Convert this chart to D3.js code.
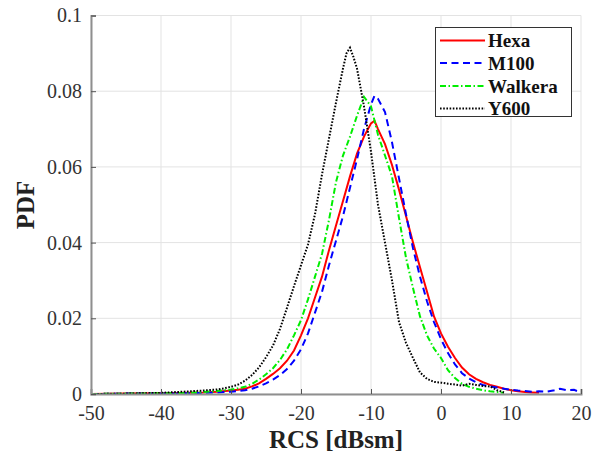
<!DOCTYPE html>
<html><head><meta charset="utf-8">
<script src="https://cdn.jsdelivr.net/npm/d3@7/dist/d3.min.js"></script>
<style>
body{margin:0;background:#fff}
svg{display:block}
text{font-family:"Liberation Serif","Times New Roman",serif}
</style>
</head><body>
<svg id="chart" width="608" height="456"></svg>
<script>
// ---- data ----
const xTicks = [-50, -40, -30, -20, -10, 0, 10, 20];
const xTickLabels = ["-50", "-40", "-30", "-20", "-10", "0", "10", "20"];
const yTicks = [0, 0.02, 0.04, 0.06, 0.08, 0.1];
const yTickLabels = ["0", "0.02", "0.04", "0.06", "0.08", "0.1"];
const seriesNames = ["Hexa", "M100", "Walkera", "Y600"];

const hexaX = [-50,-45,-40,-36,-34,-32,-30,-29,-28,-27,-26,-25,-24,-23,-22,-21,-20,-19,-18,-17,-16,-15,-14,-13,-12,-11,-10,-9.5,-9,-8,-7,-6,-5,-4,-3,-2,-1,0,1,2,3,4,5,6,7,8,9,10,11,12,13,14];
const hexaY = [0,0.0001,0.0002,0.0003,0.0004,0.0006,0.0009,0.0011,0.0014,0.0020,0.0028,0.0040,0.0053,0.0068,0.0088,0.0115,0.0155,0.0200,0.0255,0.0310,0.0380,0.0445,0.0510,0.0575,0.0635,0.0680,0.0715,0.0722,0.0700,0.0660,0.0605,0.0540,0.0470,0.0400,0.0335,0.0270,0.0205,0.0160,0.0125,0.0095,0.0070,0.0052,0.0040,0.0031,0.0024,0.0019,0.0014,0.0010,0.0007,0.0005,0.0004,0.0003];

const m100X = [-50,-45,-40,-36,-34,-32,-30,-29,-28,-27,-26,-25,-24,-23,-22,-21,-20,-19,-18,-17,-16,-15,-14,-13,-12,-11,-10,-9.5,-9,-8,-7,-6,-5,-4,-3,-2,-1,0,1,2,3,4,5,6,7,8,9,10,11,12,13,14,15,16,17,18,19,20];
const m100Y = [0,0.0001,0.0001,0.0002,0.0003,0.0004,0.0006,0.0008,0.0010,0.0014,0.0020,0.0028,0.0038,0.0050,0.0066,0.0088,0.0118,0.0160,0.0215,0.0270,0.0340,0.0405,0.0470,0.0545,0.0620,0.0700,0.0765,0.0788,0.0780,0.0745,0.0665,0.0570,0.0475,0.0385,0.0310,0.0245,0.0190,0.0145,0.0108,0.0078,0.0055,0.0041,0.0031,0.0024,0.0020,0.0017,0.0014,0.0011,0.0009,0.0008,0.0006,0.0007,0.0006,0.0009,0.0014,0.0010,0.0011,0.0004];

const walkeraX = [-50,-45,-40,-36,-34,-32,-30,-29,-28,-27,-26,-25,-24,-23,-22,-21,-20,-19,-18,-17,-16,-15,-14,-13,-12,-11,-10,-9,-8,-7,-6,-5,-4,-3,-2,-1,0,1,2,3,4,5,6,7,8,9];
const walkeraY = [0,0.0001,0.0002,0.0003,0.0005,0.0008,0.0012,0.0015,0.0019,0.0027,0.0038,0.0052,0.0068,0.0090,0.0118,0.0155,0.0195,0.0250,0.0310,0.0370,0.0460,0.0560,0.0630,0.0680,0.0735,0.0785,0.0760,0.0685,0.0630,0.0575,0.0465,0.0360,0.0280,0.0205,0.0155,0.0120,0.0095,0.0063,0.0042,0.0027,0.0019,0.0014,0.0010,0.0007,0.0005,0.0003];

const y600X = [-50,-45,-40,-38,-36,-34,-32,-31,-30,-29,-28,-27,-26,-25,-24,-23,-22,-21,-20,-19,-18,-17,-16,-15,-14,-13.5,-13,-12.5,-12,-11,-10,-9,-8,-7,-6,-5,-4,-3,-2,-1,0,1,2,3,4,5,6,7,8,9];
const y600Y = [0,0.0001,0.0003,0.0005,0.0007,0.0009,0.0012,0.0015,0.0019,0.0025,0.0035,0.0050,0.0070,0.0097,0.0128,0.0172,0.0228,0.0285,0.0340,0.0395,0.0475,0.0580,0.0675,0.0770,0.0860,0.0900,0.0915,0.0890,0.0860,0.0760,0.0640,0.0500,0.0400,0.0300,0.0190,0.0135,0.0095,0.0057,0.0040,0.0032,0.0030,0.0027,0.0025,0.0022,0.0027,0.0024,0.0021,0.0020,0.0010,0.0004];

// ---- drawing ----
const svg = d3.select("#chart");
const x = d3.scaleLinear().domain([-50, 20]).range([91, 581]);
const y = d3.scaleLinear().domain([0, 0.1]).range([394, 15.5]);

// grid
const grid = svg.append("g");
grid.selectAll("line.gx").data(xTicks).join("line")
  .attr("x1", d => x(d)).attr("x2", d => x(d))
  .attr("y1", y(0)).attr("y2", y(0.1))
  .attr("stroke", "#e3e3e3").attr("stroke-width", 1);
grid.selectAll("line.gy").data(yTicks).join("line")
  .attr("x1", x(-50)).attr("x2", x(20))
  .attr("y1", d => y(d)).attr("y2", d => y(d))
  .attr("stroke", "#e3e3e3").attr("stroke-width", 1);

svg.append("defs").append("clipPath").attr("id", "clip")
  .append("rect").attr("x", x(-50)).attr("y", y(0.1) - 2)
  .attr("width", x(20) - x(-50) + 2).attr("height", y(0) - y(0.1) + 2);

const series = [
  {name: seriesNames[0], xs: hexaX, ys: hexaY, color: "#ff0000", width: 2, dash: null},
  {name: seriesNames[1], xs: m100X, ys: m100Y, color: "#0000ff", width: 2, dash: "7,4.5"},
  {name: seriesNames[2], xs: walkeraX, ys: walkeraY, color: "#00ee00", width: 2, dash: "6,2.5,1.5,2.5"},
  {name: seriesNames[3], xs: y600X, ys: y600Y, color: "#000000", width: 2, dash: "1.6,1.6"}
];

const line = d3.line().x(d => x(d[0])).y(d => y(d[1]));
const plot = svg.append("g").attr("clip-path", "url(#clip)");
series.forEach(s => {
  const pts = s.xs.map((v, i) => [v, s.ys[i]]);
  plot.append("path").datum(pts)
    .attr("d", line).attr("fill", "none")
    .attr("stroke", s.color).attr("stroke-width", s.width)
    .attr("stroke-dasharray", s.dash);
});

// axes
const xAxis = d3.axisBottom(x).tickValues(xTicks)
  .tickFormat((d, i) => xTickLabels[i]).tickSize(-5).tickPadding(12);
const yAxis = d3.axisLeft(y).tickValues(yTicks)
  .tickFormat((d, i) => yTickLabels[i]).tickSize(-5).tickPadding(9);

const gx = svg.append("g").attr("transform", `translate(0,${y(0)})`).call(xAxis);
const gy = svg.append("g").attr("transform", `translate(${x(-50)},0)`).call(yAxis);
[gx, gy].forEach(g => {
  g.select(".domain").attr("stroke", "#8f8f8f").attr("stroke-width", 2);
  g.selectAll(".tick line").attr("stroke", "#555").attr("stroke-width", 1);
  g.selectAll(".tick text").attr("fill", "#333")
    .style("font-family", '"Liberation Serif", serif').style("font-size", "20px");
});

// axis labels
svg.append("text").attr("x", 336).attr("y", 448).attr("text-anchor", "middle")
  .attr("fill", "#222").style("font-size", "25px").style("font-weight", "bold")
  .text("RCS [dBsm]");
svg.append("text").attr("transform", "translate(34,205) rotate(-90)")
  .attr("text-anchor", "middle").attr("fill", "#222")
  .style("font-size", "25px").style("font-weight", "bold").text("PDF");

// legend
const leg = svg.append("g");
leg.append("rect").attr("x", 435.5).attr("y", 27.5).attr("width", 136).attr("height", 89)
  .attr("fill", "#fff").attr("stroke", "#333").attr("stroke-width", 1);
const rowY = [40.5, 63, 86, 108.5];
series.forEach((s, i) => {
  leg.append("line").attr("x1", 440).attr("x2", 485)
    .attr("y1", rowY[i]).attr("y2", rowY[i])
    .attr("stroke", s.color).attr("stroke-width", s.width)
    .attr("stroke-dasharray", s.dash);
  leg.append("text").attr("x", 488).attr("y", rowY[i]).attr("dy", "0.35em")
    .attr("fill", "#111").style("font-size", "19px").style("font-weight", "bold")
    .text(s.name);
});
</script>
</body></html>
